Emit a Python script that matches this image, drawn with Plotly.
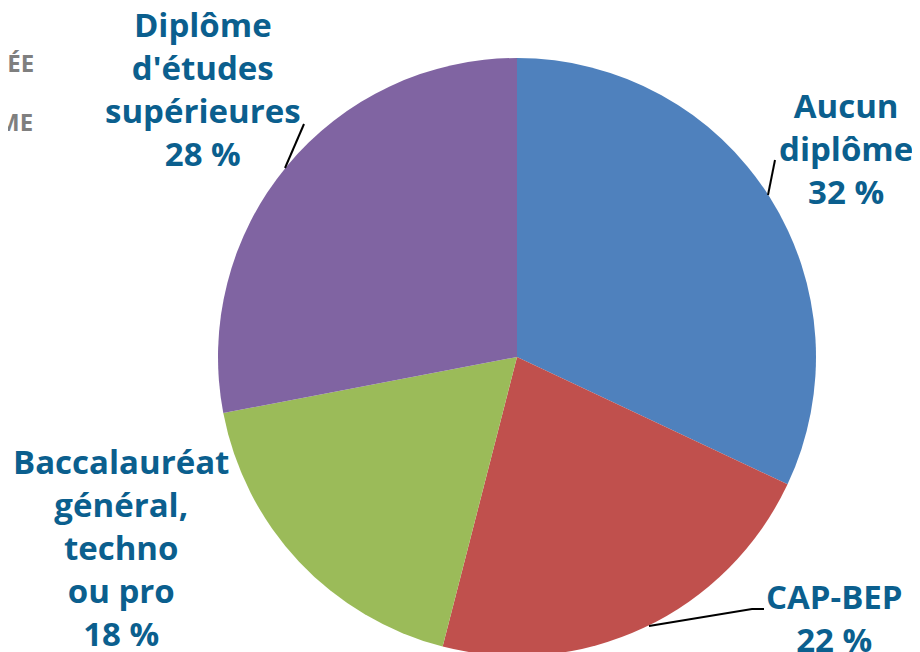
import plotly.graph_objects as go

W, H = 920, 652
OFF = 8  # page body margin offset of the figure in the browser window

categories = ["Aucun diplôme", "CAP-BEP", "Baccalauréat général, techno ou pro", "Diplôme d'études supérieures"]
values = [32, 22, 18, 28]
colors = ["#4F81BD", "#C0504D", "#9BBB59", "#8064A2"]
label_texts = [
    "Aucun<br>diplôme<br>32 %",
    "CAP-BEP<br>22 %",
    "Baccalauréat<br>général,<br>techno<br>ou pro<br>18 %",
    "Diplôme<br>d'études<br>supérieures<br>28 %",
]
# label centre positions in window pixels (x from left, y from top)
label_pos = [(846, 148), (834, 618), (121, 547), (203, 89)]


def px(x):
    return (x - OFF) / W


def py(y):
    return 1 - (y - OFF) / H


cx, cy, r = 517, 357, 299

fig = go.Figure(go.Pie(
    labels=categories,
    values=values,
    marker=dict(colors=colors, line=dict(width=0)),
    sort=False,
    direction="clockwise",
    rotation=0,
    textinfo="none",
    hoverinfo="label+percent",
    showlegend=False,
    domain=dict(x=[px(cx - r), px(cx + r)], y=[py(cy + r), py(cy - r)]),
))

label_color = "#0B5F8E"
annotations = []
for txt, (x, y) in zip(label_texts, label_pos):
    annotations.append(dict(
        text=txt, x=px(x), y=py(y), xref="paper", yref="paper",
        xanchor="center", yanchor="middle", showarrow=False, align="center",
        font=dict(family="Open Sans", size=33, color=label_color, weight=700),
    ))

# partially visible grey legend text at the top-left edge
for txt, (x, y) in [("SÉE", (36, 63)), ("ME", (35, 121))]:
    annotations.append(dict(
        text=txt, x=px(x), y=py(y), xref="paper", yref="paper",
        xanchor="right", yanchor="middle", showarrow=False,
        font=dict(family="Open Sans", size=24, color="#7F7F7F", weight=700),
    ))

line_style = dict(color="black", width=2)
shapes = [
    dict(type="path", xref="paper", yref="paper",
         path=f"M {px(768)} {py(195)} L {px(775)} {py(160)}", line=line_style),
    dict(type="path", xref="paper", yref="paper",
         path=f"M {px(649)} {py(626)} L {px(752)} {py(609)} L {px(764)} {py(609)}", line=line_style),
    dict(type="path", xref="paper", yref="paper",
         path=f"M {px(285)} {py(168)} L {px(304)} {py(124)}", line=line_style),
]

fig.update_layout(
    width=W, height=H,
    margin=dict(l=0, r=0, t=0, b=0),
    paper_bgcolor="white", plot_bgcolor="white",
    annotations=annotations,
    shapes=shapes,
)

fig.write_html("out.html")
